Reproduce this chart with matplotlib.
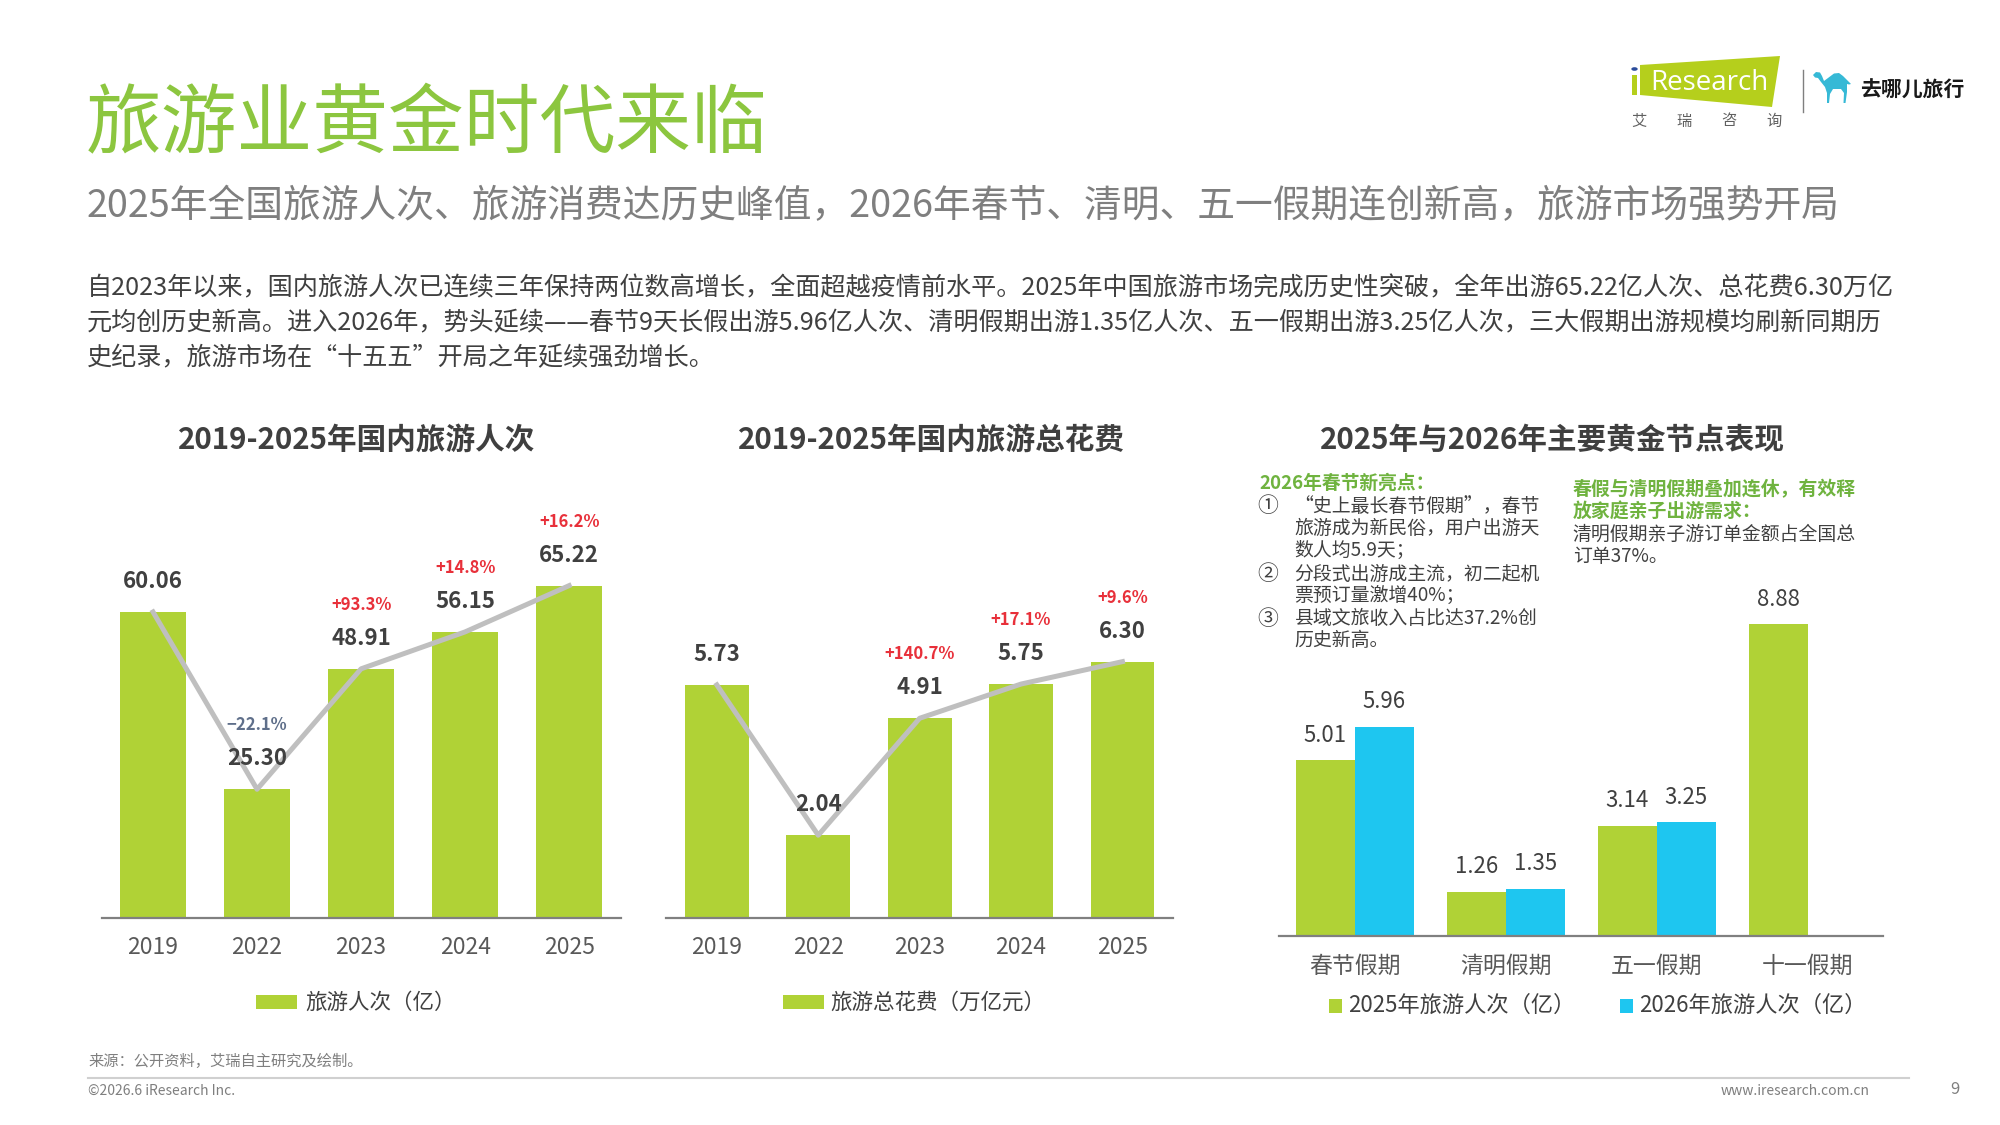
import matplotlib
matplotlib.use('Agg')
import matplotlib.pyplot as plt
from matplotlib.patches import Rectangle, Polygon, Circle
import numpy as np

plt.rcParams['font.family'] = ['Noto Sans CJK SC', 'DejaVu Sans']

# ---------------- data ----------------
years = ['2019', '2022', '2023', '2024', '2025']
trips = [60.06, 25.30, 48.91, 56.15, 65.22]
trips_growth = ['', '−22.1%', '+93.3%', '+14.8%', '+16.2%']
spend = [5.73, 2.04, 4.91, 5.75, 6.30]
spend_growth = ['', '', '+140.7%', '+17.1%', '+9.6%']
holidays = ['春节假期', '清明假期', '五一假期', '十一假期']
holiday_2025 = [5.01, 1.26, 3.14, 8.88]
holiday_2026 = [5.96, 1.35, 3.25, np.nan]

# ---------------- styles ----------------
GREEN = '#b0d236'
CYAN = '#1ec6f0'
LINE = '#bfbfbf'
DARK = '#404040'
TICK = '#595959'
RED = '#e8303a'
SLATE = '#5f6f8a'
TITLE_GREEN = '#8cc63f'
HEAD_GREEN = '#6fb33f'

W, H = 1568.0, 882.0          # layout grid (reference preview pixels)


def F(x, y):
    return (x / W, 1 - y / H)


def G(x, y):                  # full-size pixel grid
    return (x / 2000.0, 1 - y / 1125.0)


fig = plt.figure(figsize=(20, 11.25), dpi=100)
fig.patch.set_facecolor('white')

# ---------------- header ----------------
fig.text(*F(67, 99), '旅游业黄金时代来临', fontsize=54.5, color=TITLE_GREEN,
         ha='left', va='center')
fig.text(*F(68, 162),
         '2025年全国旅游人次、旅游消费达历史峰值，2026年春节、清明、五一假期连创新高，旅游市场强势开局',
         fontsize=27.2, color='#7f7f7f', ha='left', va='center')
body = ['自2023年以来，国内旅游人次已连续三年保持两位数高增长，全面超越疫情前水平。2025年中国旅游市场完成历史性突破，全年出游65.22亿人次、总花费6.30万亿',
        '元均创历史新高。进入2026年，势头延续——春节9天长假出游5.96亿人次、清明假期出游1.35亿人次、五一假期出游3.25亿人次，三大假期出游规模均刷新同期历',
        '史纪录，旅游市场在“十五五”开局之年延续强劲增长。']
for i, line in enumerate(body):
    fig.text(*F(68, 226 + i * 27.5), line, fontsize=18.1, color=DARK,
             ha='left', va='center')

# ---------------- logos ----------------
fig.patches.append(Polygon([G(1640, 65), G(1780, 56), G(1772, 107), G(1640, 95)],
                           closed=True, transform=fig.transFigure,
                           facecolor='#b5cf1c', edgecolor='none'))
fig.patches.append(Rectangle(G(1632, 95), 5 / 2000, 20 / 1125,
                             transform=fig.transFigure, facecolor='#b5cf1c',
                             edgecolor='none'))
fig.patches.append(Circle(G(1634.5, 69), 3.2 / 2000, transform=fig.transFigure,
                          facecolor='#2b4c9b', edgecolor='none'))
fig.text(*G(1650, 83), 'Research', fontsize=20, color='white', ha='left',
         va='center', family='Open Sans')
for k, ch in enumerate('艾瑞咨询'):
    fig.text(*G(1639 + k * 45, 121), ch, fontsize=11, color='#606060',
             ha='center', va='center')
fig.lines.append(plt.Line2D([1803 / 2000, 1803 / 2000],
                            [1 - 70 / 1125, 1 - 112 / 1125],
                            transform=fig.transFigure, color='#7f7f7f', lw=1))
camel = [(0, 3), (3, 0), (7, 0.5), (9, 4), (11, 9), (15, 6), (21, 1.5), (26, 1),
         (30, 4), (34, 8), (38, 12), (36, 12.5), (34, 12), (34, 20), (32.5, 31),
         (30.5, 31), (31, 21), (28, 17), (20, 17), (17, 22), (16, 31), (14, 31),
         (14, 21), (12, 15), (8, 10), (5, 6), (2, 5.5)]
fig.patches.append(Polygon([G(1813 + px, 72 + py) for px, py in camel], closed=True,
                           transform=fig.transFigure, facecolor='#36b9d6',
                           edgecolor='none'))
fig.text(*G(1860, 90), '去哪儿旅行', fontsize=15, fontweight='bold',
         color='#1a1a1a', ha='left', va='center')


# ---------------- charts ----------------
def style_axis(ax, pad):
    for s in ['left', 'right', 'top']:
        ax.spines[s].set_visible(False)
    ax.spines['bottom'].set_color('#808080')
    ax.spines['bottom'].set_linewidth(1.6)
    ax.set_yticks([])
    ax.tick_params(axis='x', length=0, pad=pad, labelsize=16.5, labelcolor=TICK)
    ax.patch.set_alpha(0)


def line_bar_chart(rect, values, growth, xlim, ylim, width):
    ax = fig.add_axes(rect)
    x = np.arange(len(values))
    ax.bar(x, values, width=width, color=GREEN, zorder=2)
    ax.plot(x, values, color=LINE, lw=3.6, zorder=3)
    for xi, v, g in zip(x, values, growth):
        ax.annotate(f'{v:.2f}', (xi, v), xytext=(0, 22), textcoords='offset points',
                    ha='center', va='center', fontsize=16, fontweight='bold',
                    color=DARK, zorder=5)
        if g:
            ax.annotate(g, (xi, v), xytext=(0, 46), textcoords='offset points',
                        ha='center', va='center', fontsize=12, fontweight='bold',
                        color=SLATE if g.startswith('−') else RED, zorder=5)
    ax.set_xlim(*xlim)
    ax.set_ylim(*ylim)
    ax.set_xticks(x, years)
    style_axis(ax, 12.5)
    return ax


line_bar_chart([80 / W, 1 - 720 / H, 407 / W, 300 / H], trips, trips_growth,
               (-0.49, 4.5), (0, 75), 0.64)
line_bar_chart([522 / W, 1 - 720 / H, 398 / W, 300 / H], spend, spend_growth,
               (-0.503, 4.503), (0, 9.39), 0.63)

ax3 = fig.add_axes([1003 / W, 1 - 734 / H, 473 / W, 289 / H])
xg = np.arange(len(holidays))
bw = 0.39
ax3.bar(xg - bw / 2, holiday_2025, width=bw, color=GREEN, zorder=2)
ax3.bar(xg + bw / 2, holiday_2026, width=bw, color=CYAN, zorder=2)
for xs, vals in [(xg - bw / 2, holiday_2025), (xg + bw / 2, holiday_2026)]:
    for xi, v in zip(xs, vals):
        if np.isnan(v):
            continue
        ax3.annotate(f'{v:.2f}', (xi, v), xytext=(0, 18), textcoords='offset points',
                     ha='center', va='center', fontsize=16, color=DARK, zorder=5)
ax3.set_xlim(-0.498, 3.494)
ax3.set_ylim(0, 10.5)
ax3.set_xticks(xg, holidays)
style_axis(ax3, 13.5)

# chart titles
for cx, t in [(280, '2019-2025年国内旅游人次'), (730, '2019-2025年国内旅游总花费'),
              (1217, '2025年与2026年主要黄金节点表现')]:
    fig.text(*F(cx, 345), t, fontsize=21.3, fontweight='bold', color='#3f3f3f',
             ha='center', va='center')

# legends
fig.patches.append(Rectangle(F(201, 791), 32 / W, 11 / H, transform=fig.transFigure,
                             facecolor=GREEN, edgecolor='none'))
fig.text(*F(239, 786), '旅游人次（亿）', fontsize=15.5, color=DARK, ha='left', va='center')
fig.patches.append(Rectangle(F(614, 791), 32 / W, 11 / H, transform=fig.transFigure,
                             facecolor=GREEN, edgecolor='none'))
fig.text(*F(651, 786), '旅游总花费（万亿元）', fontsize=15.5, color=DARK, ha='left',
         va='center')
fig.patches.append(Rectangle(F(1042, 794), 10 / W, 11 / H, transform=fig.transFigure,
                             facecolor=GREEN, edgecolor='none'))
fig.text(*F(1057, 788.5), '2025年旅游人次（亿）', fontsize=16, color=DARK, ha='left',
         va='center')
fig.patches.append(Rectangle(F(1270, 794), 10 / W, 11 / H, transform=fig.transFigure,
                             facecolor=CYAN, edgecolor='none'))
fig.text(*F(1285, 788.5), '2026年旅游人次（亿）', fontsize=16, color=DARK, ha='left',
         va='center')

# chart 3 notes
fig.text(*F(987, 379), '2026年春节新亮点：', fontsize=13.5, fontweight='bold',
         color=HEAD_GREEN, ha='left', va='center')
notes = [('①', ['“史上最长春节假期”，春节', '旅游成为新民俗，用户出游天', '数人均5.9天；'], 397),
         ('②', ['分段式出游成主流，初二起机', '票预订量激增40%；'], 450),
         ('③', ['县域文旅收入占比达37.2%创', '历史新高。'], 485)]
for mark, lines, y0 in notes:
    fig.text(*F(986, y0), mark, fontsize=15, color=DARK, ha='left', va='center')
    for j, ln in enumerate(lines):
        fig.text(*F(1015, y0 + j * 17.3), ln, fontsize=13.6, color=DARK,
                 ha='left', va='center')
fig.text(*F(1233, 384), '春假与清明假期叠加连休，有效释', fontsize=13.6,
         fontweight='bold', color=HEAD_GREEN, ha='left', va='center')
fig.text(*F(1233, 401), '放家庭亲子出游需求：', fontsize=13.6, fontweight='bold',
         color=HEAD_GREEN, ha='left', va='center')
fig.text(*F(1233, 419), '清明假期亲子游订单金额占全国总', fontsize=13.6, color=DARK,
         ha='left', va='center')
fig.text(*F(1233, 436.5), '订单37%。', fontsize=13.6, color=DARK, ha='left', va='center')

# ---------------- footer ----------------
fig.text(*F(69, 832), '来源：公开资料，艾瑞自主研究及绘制。', fontsize=11,
         color='#7f7f7f', ha='left', va='center')
fig.lines.append(plt.Line2D([69 / W, 1497 / W], [1 - 845 / H, 1 - 845 / H],
                            transform=fig.transFigure, color='#d0d0d0', lw=1.5))
fig.text(*F(69, 855), '©2026.6 iResearch Inc.', fontsize=10, color='#7f7f7f',
         ha='left', va='center')
fig.text(*F(1466, 855), 'www.iresearch.com.cn', fontsize=10, color='#7f7f7f',
         ha='right', va='center')
fig.text(*F(1533, 854), '9', fontsize=12, color='#7f7f7f', ha='center', va='center')

fig.savefig('out.png', dpi=100, facecolor='white')
